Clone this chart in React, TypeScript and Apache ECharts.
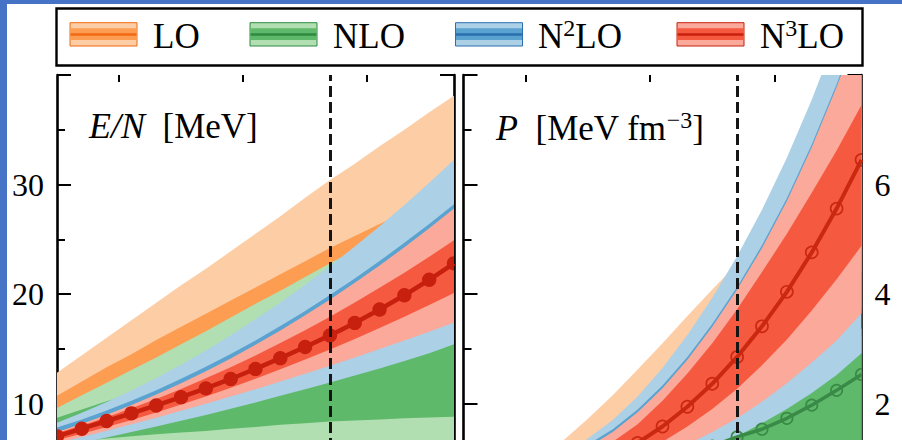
import React, { useEffect, useRef } from "react";
import * as echarts from "echarts";

// ---------- data ----------
const densities = [0.05, 0.06, 0.07, 0.08, 0.09, 0.1, 0.11, 0.12, 0.13, 0.14, 0.15, 0.16, 0.17, 0.18, 0.19, 0.2, 0.21];
const saturationDensity = 0.16;
const xMajorTicks = [0.1, 0.15, 0.2];
const xMinorTicks = [0.075, 0.125, 0.175];

// Left panel: energy per particle E/N [MeV]
const enLoOuterHi = [12.8, 14.4, 16.0, 17.6, 19.2, 20.8, 22.3, 23.9, 25.5, 27.1, 28.8, 30.4, 31.9, 33.5, 35.0, 36.6, 38.1];
const enLoInnerHi = [10.7, 12.0, 13.3, 14.5, 15.8, 17.0, 18.2, 19.4, 20.6, 21.8, 23.0, 24.2, 25.3, 26.4, 27.5, 28.6, 29.7];
const enLoInnerLo = [9.0, 10.15, 11.3, 12.45, 13.6, 14.8, 16.0, 17.25, 18.5, 19.7, 20.95, 22.2, 23.4, 24.6, 25.8, 27.0, 28.2];
const enLoOuterLo = [7.5, 8.6, 9.7, 10.8, 11.9, 13.0, 14.1, 15.2, 16.3, 17.4, 18.5, 19.6, 20.7, 21.8, 22.9, 24.0, 25.1];
const enNloOuterHi = [9.6, 10.75, 11.9, 13.05, 14.2, 15.4, 16.6, 17.85, 19.1, 20.3, 21.55, 22.8, 24.0, 25.2, 26.4, 27.6, 28.8];
const enNloInnerHi = [8.7, 9.45, 10.2, 10.9, 11.8, 12.7, 13.6, 14.5, 15.4, 16.3, 17.2, 18.1, 19.0, 19.9, 20.8, 21.7, 22.6];
const enNloInnerLo = [6.3, 6.55, 6.8, 7.0, 7.2, 7.35, 7.5, 7.7, 7.85, 8.05, 8.2, 8.35, 8.45, 8.55, 8.65, 8.72, 8.8];
const enNloOuterLo = [4.6, 4.7, 4.8, 4.9, 5.0, 5.1, 5.2, 5.3, 5.4, 5.5, 5.6, 5.7, 5.8, 5.9, 6.0, 6.1, 6.2];
const enN2OuterHi = [8.25, 9.15, 10.13, 11.19, 12.33, 13.55, 14.85, 16.23, 17.69, 19.23, 20.85, 22.55, 24.33, 26.19, 28.13, 30.15, 32.25];
const enN2InnerHi = [7.8, 8.55, 9.37, 10.26, 11.22, 12.25, 13.35, 14.52, 15.76, 17.07, 18.45, 19.9, 21.42, 23.01, 24.67, 26.4, 28.2];
const enN2InnerLo = [6.8, 7.35, 7.92, 8.5, 9.11, 9.73, 10.37, 11.03, 11.71, 12.41, 13.12, 13.85, 14.6, 15.37, 16.16, 16.96, 17.8];
const enN2OuterLo = [5.9, 6.4, 6.9, 7.4, 7.9, 8.42, 8.96, 9.52, 10.1, 10.7, 11.3, 11.92, 12.55, 13.2, 13.87, 14.6, 15.4];
const enN3OuterHi = [7.4, 8.15, 8.97, 9.86, 10.82, 11.85, 12.95, 14.12, 15.36, 16.67, 18.05, 19.5, 21.02, 22.61, 24.27, 26.0, 27.8];
const enN3InnerHi = [7.3, 8.0, 8.75, 9.56, 10.42, 11.33, 12.3, 13.32, 14.39, 15.52, 16.7, 17.93, 19.22, 20.56, 21.95, 23.4, 24.9];
const enN3Center = [7.0, 7.7, 8.4, 9.1, 9.82, 10.58, 11.38, 12.24, 13.16, 14.14, 15.16, 16.22, 17.36, 18.58, 19.88, 21.3, 22.8];
const enN3InnerLo = [6.65, 7.23, 7.85, 8.49, 9.18, 9.9, 10.65, 11.44, 12.26, 13.12, 14.01, 14.94, 15.9, 16.9, 17.93, 19.0, 20.1];
const enN3OuterLo = [6.4, 6.95, 7.52, 8.1, 8.71, 9.33, 9.97, 10.63, 11.31, 12.01, 12.72, 13.45, 14.2, 14.97, 15.76, 16.56, 17.4];

// Right panel: pressure P [MeV fm^-3]
const pLoOuterHi = [0.45, 0.6, 0.78, 1.0, 1.32, 1.72, 2.15, 2.62, 3.1, 3.6, 4.08, 4.55, 5.05, 5.55, 6.05, 6.55, 7.05];
const pLoInnerHi = [0.4, 0.5, 0.62, 0.78, 0.98, 1.26, 1.6, 2.03, 2.55, 3.15, 3.83, 4.4, 5.0, 5.5, 6.0, 6.5, 7.0];
const pLoInnerLo = [0.3, 0.38, 0.47, 0.6, 0.75, 0.9, 1.1, 1.35, 1.65, 2.0, 2.4, 2.85, 3.35, 3.9, 4.5, 5.1, 5.8];
const pLoOuterLo = [0.25, 0.32, 0.4, 0.5, 0.62, 0.75, 0.9, 1.1, 1.35, 1.6, 1.9, 2.25, 2.6, 3.0, 3.45, 3.9, 4.4];
const pNloOuterHi = [0.65, 0.7, 0.75, 0.81, 0.88, 0.96, 1.05, 1.15, 1.27, 1.41, 1.62, 1.87, 2.1, 2.35, 2.65, 2.97, 3.37];
const pNloInnerHi = [0.5, 0.55, 0.6, 0.66, 0.73, 0.81, 0.9, 1.0, 1.12, 1.26, 1.47, 1.72, 1.95, 2.2, 2.5, 2.82, 3.22];
const pNloCenter = [0.3, 0.36, 0.43, 0.5, 0.58, 0.66, 0.75, 0.85, 0.96, 1.08, 1.22, 1.39, 1.53, 1.73, 1.97, 2.24, 2.53];
const pNloInnerLo = [0.1, 0.13, 0.16, 0.2, 0.24, 0.28, 0.33, 0.38, 0.44, 0.5, 0.57, 0.65, 0.74, 0.84, 0.95, 1.07, 1.2];
const pNloOuterLo = [0.0, 0.03, 0.06, 0.1, 0.14, 0.18, 0.22, 0.26, 0.3, 0.35, 0.4, 0.46, 0.52, 0.6, 0.68, 0.76, 0.85];
const pN2OuterHi = [0.5, 0.6, 0.72, 0.88, 1.08, 1.36, 1.7, 2.13, 2.65, 3.25, 3.93, 4.69, 5.54, 6.49, 7.55, 8.72, 10.0];
const pN2InnerHi = [0.47, 0.58, 0.71, 0.87, 1.05, 1.25, 1.53, 1.89, 2.33, 2.85, 3.45, 4.13, 4.89, 5.75, 6.73, 7.83, 9.05];
const pN2InnerLo = [0.3, 0.36, 0.42, 0.5, 0.6, 0.7, 0.82, 0.97, 1.15, 1.35, 1.58, 1.83, 2.13, 2.47, 2.85, 3.25, 3.75];
const pN2OuterLo = [0.2, 0.25, 0.3, 0.36, 0.43, 0.51, 0.6, 0.7, 0.82, 0.97, 1.17, 1.4, 1.64, 1.9, 2.19, 2.52, 2.92];
const pN3OuterHi = [0.42, 0.53, 0.66, 0.82, 1.0, 1.2, 1.48, 1.84, 2.28, 2.8, 3.4, 4.08, 4.84, 5.7, 6.68, 7.78, 9.0];
const pN3InnerHi = [0.36, 0.45, 0.56, 0.7, 0.86, 1.05, 1.3, 1.62, 2.05, 2.55, 3.1, 3.72, 4.4, 5.1, 5.85, 6.62, 7.45];
const pN3Center = [0.3, 0.38, 0.47, 0.58, 0.71, 0.86, 1.04, 1.28, 1.58, 1.94, 2.36, 2.85, 3.41, 4.04, 4.76, 5.56, 6.45];
const pN3InnerLo = [0.26, 0.33, 0.4, 0.49, 0.6, 0.72, 0.86, 1.05, 1.3, 1.58, 1.9, 2.27, 2.7, 3.17, 3.7, 4.27, 4.88];
const pN3OuterLo = [0.22, 0.28, 0.34, 0.41, 0.5, 0.6, 0.72, 0.87, 1.05, 1.25, 1.48, 1.73, 2.03, 2.37, 2.75, 3.15, 3.65];

const legendLabels = ["LO", "NLO", "N{s|2}LO", "N{s|3}LO"];

// ---------- styling ----------
const C = {
  loLight: "#fdcea6",
  loMid: "#fd9d52",
  loDark: "#f16913",
  nloLight: "#b1dfb1",
  nloMid: "#5eb96b",
  nloDark: "#2f8a42",
  n2Light: "#acd0e6",
  n2Mid: "#5aa2d0",
  n2Dark: "#2a6fae",
  n3Light: "#faa99a",
  n3Mid: "#f55a40",
  n3Dark: "#c8200e",
};
const SERIF = "'Liberation Serif', 'DejaVu Serif', serif";

type Band = { hi: number[]; lo: number[]; color: string };

const enBands: Band[] = [
  { hi: enLoOuterHi, lo: enLoOuterLo, color: C.loLight },
  { hi: enLoInnerHi, lo: enLoInnerLo, color: C.loMid },
  { hi: enNloOuterHi, lo: enNloOuterLo, color: C.nloLight },
  { hi: enNloInnerHi, lo: enNloInnerLo, color: C.nloMid },
  { hi: enN2OuterHi, lo: enN2OuterLo, color: C.n2Light },
  { hi: enN2InnerHi, lo: enN2InnerLo, color: C.n2Mid },
  { hi: enN3OuterHi, lo: enN3OuterLo, color: C.n3Light },
  { hi: enN3InnerHi, lo: enN3InnerLo, color: C.n3Mid },
];
const pBands: Band[] = [
  { hi: pLoOuterHi, lo: pLoOuterLo, color: C.loLight },
  { hi: pLoInnerHi, lo: pLoInnerLo, color: C.loMid },
  { hi: pNloOuterHi, lo: pNloOuterLo, color: C.nloLight },
  { hi: pNloInnerHi, lo: pNloInnerLo, color: C.nloMid },
  { hi: pN2OuterHi, lo: pN2OuterLo, color: C.n2Light },
  { hi: pN2InnerHi, lo: pN2InnerLo, color: C.n2Mid },
  { hi: pN3OuterHi, lo: pN3OuterLo, color: C.n3Light },
  { hi: pN3InnerHi, lo: pN3InnerLo, color: C.n3Mid },
];

function bandSeries(bands: Band[], xi: number, yi: number) {
  return {
    type: "custom",
    xAxisIndex: xi,
    yAxisIndex: yi,
    clip: true,
    silent: true,
    z: 2,
    data: bands.map((_, i) => [densities[0], 1, i]),
    renderItem: (params: any, api: any) => {
      const b = bands[params.dataIndex];
      const pts: number[][] = [];
      for (let k = 0; k < densities.length; k++) pts.push(api.coord([densities[k], b.hi[k]]));
      for (let k = densities.length - 1; k >= 0; k--) pts.push(api.coord([densities[k], b.lo[k]]));
      return { type: "polygon", shape: { points: pts }, style: { fill: b.color, stroke: null } };
    },
  };
}

function centerLine(values: number[], xi: number, yi: number, color: string, width: number) {
  return {
    type: "line",
    xAxisIndex: xi,
    yAxisIndex: yi,
    z: 3,
    silent: true,
    data: densities.map((x, k) => [x, values[k]]),
    symbol: "none",
    lineStyle: { color, width },
  };
}

function markerSeries(values: number[], xi: number, yi: number, color: string, r: number, hollow: boolean) {
  return {
    type: "custom",
    xAxisIndex: xi,
    yAxisIndex: yi,
    clip: true,
    silent: true,
    z: 4,
    data: densities.map((x, k) => [x, values[k]]),
    renderItem: (params: any, api: any) => {
      const p = api.coord([api.value(0), api.value(1)]);
      return {
        type: "circle",
        shape: { cx: p[0], cy: p[1], r },
        style: hollow ? { fill: "none", stroke: color, lineWidth: 1.7 } : { fill: color, stroke: null },
      };
    },
  };
}

function dashedSeries(xi: number, yi: number) {
  return {
    type: "line",
    xAxisIndex: xi,
    yAxisIndex: yi,
    z: 6,
    data: [],
    markLine: {
      silent: true,
      symbol: "none",
      label: { show: false },
      lineStyle: { color: "#151515", width: 3, type: [11, 5] },
      data: [{ xAxis: saturationDensity }],
    },
  };
}

const axisLineStyle = { color: "#000", width: 2.6 };
const tickLine = { width: 2, color: "#000" };
function xAxes(grid: number) {
  const base = {
    gridIndex: grid,
    type: "value",
    min: 0.05,
    max: 0.21,
    splitLine: { show: false },
    axisLabel: { show: false },
  };
  return [
    { ...base, position: "bottom", axisLine: { show: true, lineStyle: axisLineStyle }, axisTick: { show: true, inside: true, length: 13, customValues: xMajorTicks, lineStyle: tickLine } },
    { ...base, position: "top", axisLine: { show: true, lineStyle: axisLineStyle }, axisTick: { show: true, inside: true, length: 13, customValues: xMajorTicks, lineStyle: tickLine } },
    { ...base, position: "top", axisLine: { show: false }, axisTick: { show: true, inside: true, length: 7, customValues: xMinorTicks, lineStyle: tickLine } },
  ];
}
function yAxis(grid: number, pos: string, max: number, interval: number, labels: boolean) {
  return {
    gridIndex: grid,
    type: "value",
    position: pos,
    min: 0,
    max,
    interval,
    splitLine: { show: false },
    axisLine: { show: true, lineStyle: axisLineStyle },
    axisTick: { show: true, inside: true, length: 14, lineStyle: tickLine },
    minorTick: { show: true, splitNumber: 2, length: 8, lineStyle: tickLine },
    axisLabel: {
      show: labels,
      showMaxLabel: false,
      showMinLabel: false,
      margin: 13,
      fontFamily: SERIF,
      fontSize: 32,
      color: "#000",
    },
  };
}

function legendGraphics() {
  const items: any[] = [];
  items.push({
    type: "rect",
    z: 100,
    shape: { x: 56.5, y: 8.5, width: 806, height: 57 },
    style: { fill: "#fff", stroke: "#000", lineWidth: 2.4 },
  });
  const swX = [70, 250, 455.5, 677];
  const txX = [153, 333, 538, 760];
  const cols = [
    [C.loLight, C.loMid, C.loDark],
    [C.nloLight, C.nloMid, C.nloDark],
    [C.n2Light, C.n2Mid, C.n2Dark],
    [C.n3Light, C.n3Mid, C.n3Dark],
  ];
  legendLabels.forEach((lab, i) => {
    const x = swX[i];
    const [l, m, d] = cols[i];
    items.push({ type: "rect", z: 101, shape: { x, y: 22.7, width: 67, height: 23.3 }, style: { fill: l, stroke: d, lineWidth: 1 } });
    items.push({ type: "rect", z: 102, shape: { x: x + 0.5, y: 28.3, width: 66, height: 11.7 }, style: { fill: m } });
    items.push({ type: "rect", z: 103, shape: { x: x + 0.5, y: 33.2, width: 66, height: 2.6 }, style: { fill: d } });
    items.push({
      type: "text",
      z: 104,
      x: txX[i],
      y: 36,
      style: {
        text: lab,
        fontFamily: SERIF,
        fontSize: 35,
        fill: "#000",
        align: "left",
        verticalAlign: "middle",
        lineHeight: 40,
        rich: {
          s: { fontFamily: SERIF, fontSize: 24, fill: "#000", verticalAlign: "top", lineHeight: 26 },
        },
      },
    });
  });
  return items;
}

const option: any = {
  animation: false,
  backgroundColor: "#fff",
  grid: [
    { left: 57, top: 75, width: 397, height: 438 },
    { left: 463.5, top: 75, width: 398, height: 438 },
  ],
  xAxis: [...xAxes(0), ...xAxes(1)],
  yAxis: [
    yAxis(0, "left", 40, 10, true),
    yAxis(0, "right", 40, 10, false),
    yAxis(1, "left", 8, 2, false),
    yAxis(1, "right", 8, 2, true),
  ],
  series: [
    bandSeries(enBands, 0, 0),
    bandSeries(pBands, 3, 2),
    centerLine(enN3Center, 0, 0, C.n3Dark, 4.5),
    markerSeries(enN3Center, 0, 0, C.n3Dark, 7.2, false),
    centerLine(pNloCenter, 3, 2, "#3a8a47", 3.5),
    markerSeries(pNloCenter, 3, 2, "#3a8a47", 5.7, true),
    centerLine(pN3Center, 3, 2, "#cb2810", 4),
    markerSeries(pN3Center, 3, 2, "#cb2810", 6, true),
    dashedSeries(0, 0),
    dashedSeries(3, 2),
  ],
  graphic: [
    { type: "rect", z: 200, shape: { x: 0, y: 0, width: 7, height: 600 }, style: { fill: "#4673c6" } },
    { type: "rect", z: 200, shape: { x: 0, y: 0, width: 902, height: 4 }, style: { fill: "#4673c6" } },
    ...legendGraphics(),
    {
      type: "text",
      z: 50,
      x: 89,
      y: 126,
      style: {
        text: "{i|E/N}  [MeV]",
        fontFamily: SERIF,
        fontSize: 35,
        fill: "#000",
        align: "left",
        verticalAlign: "middle",
        rich: { i: { fontFamily: SERIF, fontSize: 36, fontStyle: "italic", fill: "#000" } },
      },
    },
    {
      type: "text",
      z: 50,
      x: 496,
      y: 128,
      style: {
        text: "{i|P}  [MeV fm{s|−3}]",
        fontFamily: SERIF,
        fontSize: 35,
        fill: "#000",
        align: "left",
        verticalAlign: "middle",
        lineHeight: 40,
        rich: {
          i: { fontFamily: SERIF, fontSize: 36, fontStyle: "italic", fill: "#000", lineHeight: 40 },
          s: { fontFamily: SERIF, fontSize: 24, fill: "#000", verticalAlign: "top", lineHeight: 26 },
        },
      },
    },
  ],
};

export default function App() {
  const ref = useRef<HTMLDivElement>(null);
  useEffect(() => {
    const chart = echarts.init(ref.current!, null, { renderer: "svg" });
    chart.setOption(option);
    return () => chart.dispose();
  }, []);
  return (
    <div style={{ position: "fixed", left: 0, top: 0, width: 902, height: 440, overflow: "hidden", background: "#fff" }}>
      <div ref={ref} style={{ width: 902, height: 600 }} />
    </div>
  );
}
